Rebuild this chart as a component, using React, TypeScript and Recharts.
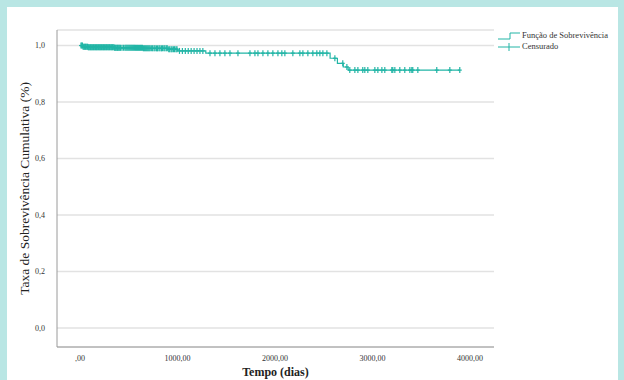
import React from 'react';
import { ComposedChart, Line, Scatter, XAxis, YAxis, CartesianGrid, Legend, Label } from 'recharts';

// Kaplan-Meier step points (dias, sobrevivência)
const stepTimes = [0, 30, 80, 350, 650, 900, 1000, 1290, 2565, 2640, 2700, 2750, 3895];
const stepSurv = [1.0, 0.996, 0.994, 0.992, 0.99, 0.987, 0.981, 0.973, 0.955, 0.937, 0.924, 0.913, 0.913];

// censored observations (dias)
const censoredTimes = [
  10, 18, 25, 32, 40, 48, 55, 62, 70, 78, 85, 92, 100, 108, 115, 122, 130, 138, 145, 152, 160, 168,
  175, 182, 190, 198, 205, 212, 220, 228, 235, 242, 250, 258, 265, 272, 280, 288, 295, 302, 310,
  318, 325, 332, 340, 348, 355, 362, 370, 378, 385, 392, 400, 408, 415, 430, 445, 460, 470, 480,
  490, 500, 510, 520, 530, 540, 550, 560, 570, 580, 590, 600, 610, 620, 630, 640, 650, 660, 670,
  680, 690, 700, 710, 720, 735, 745, 760, 770, 785, 795, 810, 820, 835, 845, 860, 870, 885, 895,
  910, 920, 935, 945, 960, 970, 985, 995, 1020, 1050, 1080, 1110, 1140, 1170, 1200, 1230, 1260,
  1333, 1384, 1435, 1486, 1538, 1620, 1743, 1794, 1825, 1876, 1927, 1978, 2030, 2070, 2101, 2183,
  2255, 2286, 2337, 2388, 2429, 2460, 2491, 2532, 2614, 2695, 2737, 2767, 2819, 2850, 2900, 2921,
  2952, 3024, 3055, 3096, 3126, 3198, 3208, 3229, 3280, 3331, 3383, 3403, 3413, 3465, 3659, 3793,
  3895,
];

const xTicks = [0, 1000, 2000, 3000, 4000];
const yTicks = [0, 0.2, 0.4, 0.6, 0.8, 1.0];

const TEAL = '#22b5a6';
const FONT = '"Liberation Serif", "DejaVu Serif", serif';

const survAt = (t: number) => {
  let s = stepSurv[0];
  stepTimes.forEach((st, i) => {
    if (st <= t) s = stepSurv[i];
  });
  return s;
};

const stepData = stepTimes.map((t, i) => ({ t, s: stepSurv[i] }));
const censorData = censoredTimes.map((t) => ({ t, s: survAt(t) }));

const fmtX = (v: number) => (v === 0 ? ',00' : `${v},00`);
const fmtY = (v: number) => v.toFixed(1).replace('.', ',');

const Plus = (props: { cx?: number; cy?: number }) => {
  const { cx = 0, cy = 0 } = props;
  return (
    <g stroke={TEAL} strokeWidth={1.2}>
      <line x1={cx} y1={cy - 3} x2={cx} y2={cy + 3} />
      <line x1={cx - 2} y1={cy} x2={cx + 2} y2={cy} />
    </g>
  );
};

const LegendBox = () => (
  <div style={{ fontFamily: FONT, fontSize: 8.5, color: '#333', lineHeight: '11px' }}>
    <div style={{ display: 'flex', alignItems: 'center' }}>
      <svg width={24} height={10}>
        <polyline points="1,8 13,8 13,2 23,2" fill="none" stroke={TEAL} strokeWidth={1} />
      </svg>
      <span style={{ marginLeft: 1 }}>Função de Sobrevivência</span>
    </div>
    <div style={{ display: 'flex', alignItems: 'center' }}>
      <svg width={24} height={10}>
        <line x1={1} y1={5} x2={23} y2={5} stroke={TEAL} strokeWidth={1} />
        <line x1={12} y1={1} x2={12} y2={9} stroke={TEAL} strokeWidth={1} />
      </svg>
      <span style={{ marginLeft: 1 }}>Censurado</span>
    </div>
  </div>
);

export default function App() {
  return (
    <div style={{ width: 624, height: 380, background: '#b9e6e4', position: 'relative', overflow: 'hidden' }}>
      <style>{'body{margin:0}'}</style>
      <div style={{ position: 'absolute', left: 7, top: 7, width: 611, height: 373, background: '#ffffff' }} />
      <div style={{ position: 'absolute', left: 0, top: 0 }}>
        <ComposedChart width={624} height={380} margin={{ top: 30, right: 130, bottom: 0, left: 0 }}>
          <CartesianGrid vertical={false} stroke="#e2e2e2" strokeWidth={1.5} />
          <XAxis
            dataKey="t"
            type="number"
            domain={[-236, 4246]}
            ticks={xTicks}
            tickFormatter={fmtX}
            allowDataOverflow
            height={33}
            stroke="#9a9a9a"
            tickLine={false}
            tick={{ fontFamily: FONT, fontSize: 8, fill: '#333' }}
          >
            <Label value="Tempo (dias)" position="bottom" offset={-13} style={{ fontFamily: FONT, fontSize: 12, fontWeight: 'bold', fill: '#222' }} />
          </XAxis>
          <YAxis
            dataKey="s"
            type="number"
            domain={[-0.067, 1.055]}
            ticks={yTicks}
            tickFormatter={fmtY}
            allowDataOverflow
            width={57}
            stroke="#9a9a9a"
            tickLine={false}
            tickMargin={6}
            tick={{ fontFamily: FONT, fontSize: 8, fill: '#333' }}
          >
            <Label
              value="Taxa de Sobrevivência Cumulativa (%)"
              angle={-90}
              position="insideLeft"
              offset={24}
              style={{ fontFamily: FONT, fontSize: 13.5, fill: '#222', textAnchor: 'middle' }}
            />
          </YAxis>
          <Line
            data={stepData}
            dataKey="s"
            type="stepAfter"
            stroke={TEAL}
            strokeWidth={1.2}
            dot={false}
            isAnimationActive={false}
            legendType="none"
          />
          <Scatter data={censorData} dataKey="s" shape={<Plus />} isAnimationActive={false} legendType="none" />
          <Legend
            layout="horizontal"
            verticalAlign="middle"
            align="center"
            content={<LegendBox />}
            wrapperStyle={{ position: 'absolute', left: 497, top: 30, width: 127 }}
          />
        </ComposedChart>
      </div>
    </div>
  );
}
